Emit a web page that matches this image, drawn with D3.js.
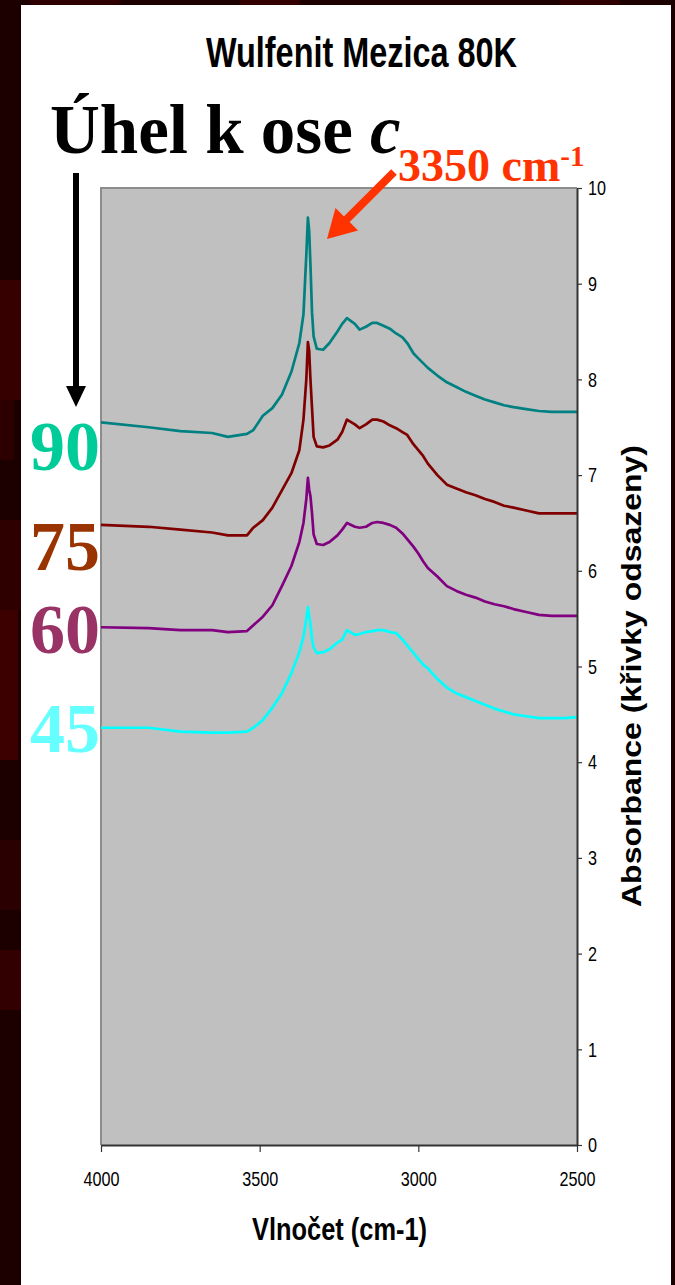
<!DOCTYPE html>
<html>
<head>
<meta charset="utf-8">
<script src="https://cdn.jsdelivr.net/npm/d3@7"></script>
<style>
  body { margin: 0; background: #1c0000; }
  svg { display: block; }
</style>
</head>
<body>
<div id="chart"></div>
<script>
// Wulfenit Mezica 80K - IR spectra, curves offset vertically

var wavenumbers = [4000, 3850, 3750, 3650, 3600, 3540, 3520, 3490, 3460, 3430, 3400, 3375, 3362, 3353, 3348, 3344, 3340, 3335, 3330, 3320, 3300, 3280, 3255, 3240, 3225, 3200, 3185, 3165, 3145, 3130, 3110, 3090, 3070, 3050, 3035, 3015, 3000, 2985, 2970, 2940, 2910, 2880, 2850, 2820, 2790, 2760, 2730, 2700, 2660, 2620, 2580, 2540, 2500];

var abs90 = [7.55, 7.50, 7.46, 7.44, 7.40, 7.43, 7.47, 7.62, 7.70, 7.84, 8.08, 8.38, 8.68, 9.30, 9.69, 9.55, 9.20, 8.70, 8.45, 8.32, 8.31, 8.38, 8.50, 8.58, 8.64, 8.58, 8.52, 8.55, 8.59, 8.59, 8.56, 8.53, 8.48, 8.44, 8.38, 8.27, 8.22, 8.17, 8.12, 8.04, 7.97, 7.92, 7.87, 7.83, 7.79, 7.76, 7.73, 7.71, 7.69, 7.67, 7.66, 7.66, 7.66];
var abs75 = [6.48, 6.46, 6.43, 6.40, 6.37, 6.37, 6.45, 6.53, 6.66, 6.84, 7.02, 7.26, 7.58, 8.00, 8.39, 8.30, 8.00, 7.70, 7.40, 7.30, 7.29, 7.31, 7.37, 7.45, 7.58, 7.53, 7.49, 7.53, 7.58, 7.58, 7.56, 7.52, 7.49, 7.45, 7.42, 7.32, 7.26, 7.20, 7.12, 7.00, 6.90, 6.86, 6.82, 6.79, 6.75, 6.72, 6.68, 6.66, 6.63, 6.60, 6.60, 6.60, 6.60];
var abs60 = [5.41, 5.40, 5.38, 5.38, 5.36, 5.37, 5.43, 5.52, 5.64, 5.84, 6.05, 6.30, 6.50, 6.75, 6.97, 6.85, 6.78, 6.60, 6.38, 6.28, 6.27, 6.30, 6.37, 6.43, 6.50, 6.46, 6.45, 6.46, 6.50, 6.51, 6.50, 6.48, 6.45, 6.39, 6.33, 6.25, 6.18, 6.10, 6.03, 5.94, 5.84, 5.79, 5.75, 5.72, 5.68, 5.65, 5.63, 5.60, 5.57, 5.54, 5.53, 5.53, 5.53];
var abs45 = [4.36, 4.36, 4.32, 4.31, 4.31, 4.32, 4.36, 4.44, 4.57, 4.72, 4.93, 5.15, 5.31, 5.50, 5.62, 5.52, 5.45, 5.28, 5.20, 5.14, 5.15, 5.18, 5.25, 5.28, 5.38, 5.33, 5.34, 5.36, 5.37, 5.38, 5.38, 5.36, 5.35, 5.28, 5.22, 5.14, 5.08, 5.02, 4.98, 4.87, 4.78, 4.72, 4.68, 4.64, 4.60, 4.56, 4.53, 4.50, 4.48, 4.46, 4.46, 4.46, 4.47];

var angles = ["90", "75", "60", "45"];
var xTicks = [4000, 3500, 3000, 2500];
var yTicks = [0, 1, 2, 3, 4, 5, 6, 7, 8, 9, 10];

var lineColors = ["#008080", "#800000", "#800080", "#00ffff"];
var labelColors = ["#00cc99", "#993300", "#993366", "#66ffff"];
var labelBaselines = [470, 570, 653, 752];

var W = 675, H = 1285;
var plot = {left: 101, right: 577, top: 188, bottom: 1145};
var sans = "'Liberation Sans', Arial, sans-serif";
var serif = "'Liberation Serif', 'Times New Roman', serif";

var svg = d3.select('#chart').append('svg')
  .attr('width', W)
  .attr('height', H);

// dark red slide background with a bit of texture
svg.append('rect').attr('width', W).attr('height', H).attr('fill', '#1c0000');
var patches = [
  [0, 280, 21, 120, '#360000'], [0, 400, 14, 60, '#2c0000'], [0, 520, 21, 90, '#2e0000'],
  [0, 610, 18, 150, '#3c0000'], [0, 840, 21, 70, '#2a0000'], [0, 950, 21, 60, '#320000'],
  [30, 0, 90, 5, '#2c0000'], [240, 0, 60, 5, '#320000'], [560, 0, 60, 5, '#2c0000']
];
svg.selectAll('rect.patch').data(patches).enter().append('rect')
  .attr('class', 'patch')
  .attr('x', function(d) { return d[0]; })
  .attr('y', function(d) { return d[1]; })
  .attr('width', function(d) { return d[2]; })
  .attr('height', function(d) { return d[3]; })
  .attr('fill', function(d) { return d[4]; });

// white slide panel
svg.append('rect')
  .attr('x', 21).attr('y', 5)
  .attr('width', 650).attr('height', H - 5)
  .attr('fill', '#ffffff');

var x = d3.scaleLinear().domain([4000, 2500]).range([plot.left, plot.right]);
var y = d3.scaleLinear().domain([0, 10]).range([plot.bottom, plot.top]);

// plot area
svg.append('rect')
  .attr('x', plot.left).attr('y', plot.top)
  .attr('width', plot.right - plot.left).attr('height', plot.bottom - plot.top)
  .attr('fill', '#c0c0c0');
svg.append('path')
  .attr('d', 'M' + plot.left + ',' + plot.bottom + 'V' + plot.top + 'H' + plot.right)
  .attr('fill', 'none')
  .attr('stroke', '#8c8c8c')
  .attr('stroke-width', 2);

svg.append('clipPath').attr('id', 'clip')
  .append('rect')
  .attr('x', plot.left).attr('y', plot.top)
  .attr('width', plot.right - plot.left).attr('height', plot.bottom - plot.top);

// spectra
var series = [abs90, abs75, abs60, abs45];
var line = d3.line()
  .x(function(d) { return x(d[0]); })
  .y(function(d) { return y(d[1]); });

svg.append('g').attr('clip-path', 'url(#clip)')
  .selectAll('path').data(series).enter().append('path')
  .attr('d', function(s) { return line(d3.zip(wavenumbers, s)); })
  .attr('fill', 'none')
  .attr('stroke', function(s, i) { return lineColors[i]; })
  .attr('stroke-width', 2.7)
  .attr('stroke-linejoin', 'round');

// axes
var yAxis = svg.append('g')
  .attr('transform', 'translate(' + plot.right + ',0)')
  .call(d3.axisRight(y).tickValues(yTicks).tickSize(5).tickSizeOuter(0).tickPadding(6));
var xAxis = svg.append('g')
  .attr('transform', 'translate(0,' + plot.bottom + ')')
  .call(d3.axisBottom(x).tickValues(xTicks).tickSize(7).tickSizeOuter(0).tickPadding(19)
    .tickFormat(d3.format('d')));

[yAxis, xAxis].forEach(function(ax) {
  ax.select('.domain').attr('stroke', '#333').attr('stroke-width', 2);
  ax.selectAll('.tick line').attr('stroke', '#333').attr('stroke-width', 1.2);
  // chart is stretched vertically, so squeeze the glyphs
  ax.selectAll('.tick text')
    .attr('font-family', sans)
    .attr('font-size', 21)
    .attr('fill', '#000')
    .attr('textLength', function(d) { return String(d).length * 9; })
    .attr('lengthAdjust', 'spacingAndGlyphs');
});

// titles
svg.append('text')
  .attr('x', 206).attr('y', 67)
  .attr('font-family', sans).attr('font-weight', 'bold').attr('font-size', 43)
  .attr('textLength', 311).attr('lengthAdjust', 'spacingAndGlyphs')
  .text('Wulfenit Mezica 80K');

svg.append('text')
  .attr('x', 252).attr('y', 1240)
  .attr('font-family', sans).attr('font-weight', 'bold').attr('font-size', 32)
  .attr('textLength', 175).attr('lengthAdjust', 'spacingAndGlyphs')
  .text('Vlnočet (cm-1)');

svg.append('text')
  .attr('transform', 'translate(641,676) rotate(-90)')
  .attr('text-anchor', 'middle')
  .attr('font-family', sans).attr('font-weight', 'bold').attr('font-size', 27)
  .attr('textLength', 462).attr('lengthAdjust', 'spacingAndGlyphs')
  .text('Absorbance (křivky odsazeny)');

// slide annotations
var heading = svg.append('text')
  .attr('x', 50).attr('y', 153)
  .attr('font-family', serif).attr('font-weight', 'bold').attr('font-size', 69)
  .attr('fill', '#000');
heading.append('tspan').text('Úhel k ose ');
heading.append('tspan').attr('font-style', 'italic').text('c');

var peak = svg.append('text')
  .attr('x', 398).attr('y', 181)
  .attr('font-family', serif).attr('font-weight', 'bold').attr('font-size', 46)
  .attr('fill', '#ff3300');
peak.append('tspan').text('3350 cm');
peak.append('tspan').attr('font-size', 29).attr('dy', -15).text('-1');

// orange arrow pointing at the sharp peak
var tail = [394, 172], tip = [327, 239];
var ux = (tip[0] - tail[0]), uy = (tip[1] - tail[1]);
var len = Math.sqrt(ux * ux + uy * uy);
ux /= len; uy /= len;
var base = [tip[0] - 28 * ux, tip[1] - 28 * uy];
svg.append('line')
  .attr('x1', tail[0]).attr('y1', tail[1])
  .attr('x2', base[0] + 2 * ux).attr('y2', base[1] + 2 * uy)
  .attr('stroke', '#ff3300').attr('stroke-width', 8);
svg.append('polygon')
  .attr('points', [
    [tip[0], tip[1]],
    [base[0] - 16 * uy, base[1] + 16 * ux],
    [base[0] + 16 * uy, base[1] - 16 * ux]
  ].join(' '))
  .attr('fill', '#ff3300');

// black arrow down the angle labels
svg.append('line')
  .attr('x1', 76).attr('y1', 173).attr('x2', 76).attr('y2', 389)
  .attr('stroke', '#000').attr('stroke-width', 6);
svg.append('polygon')
  .attr('points', '66,386 86,386 76,407')
  .attr('fill', '#000');

// angle labels
svg.selectAll('text.angle').data(angles).enter().append('text')
  .attr('class', 'angle')
  .attr('x', 100)
  .attr('y', function(d, i) { return labelBaselines[i]; })
  .attr('text-anchor', 'end')
  .attr('font-family', serif).attr('font-weight', 'bold').attr('font-size', 70)
  .attr('fill', function(d, i) { return labelColors[i]; })
  .text(function(d) { return d; });
</script>
</body>
</html>
